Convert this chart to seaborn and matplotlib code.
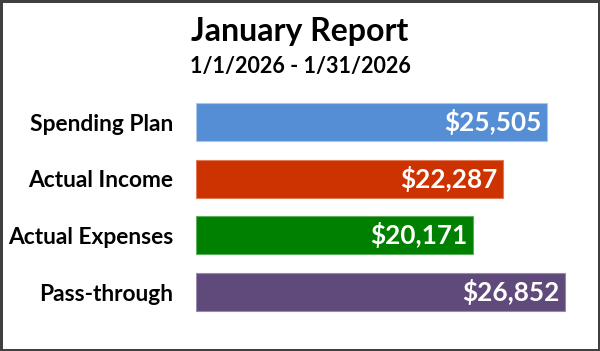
import matplotlib
matplotlib.use("Agg")
import matplotlib.pyplot as plt
import seaborn as sns
import pandas as pd

title = "January Report"
subtitle = "1/1/2026 - 1/31/2026"
categories = ["Spending Plan", "Actual Income", "Actual Expenses", "Pass-through"]
values = [25505, 22287, 20171, 26852]
value_labels = ["$25,505", "$22,287", "$20,171", "$26,852"]
colors = ["#558ED5", "#CC3300", "#008000", "#604A7B"]
edge_colors = ["#A8C6EC", "#E07A55", "#5FAE5F", "#9A89AE"]

sns.set_theme(style="white")
FONT = ["Lato", "DejaVu Sans"]
plt.rcParams["font.family"] = FONT

df = pd.DataFrame({"category": categories, "value": values})

W, H = 600, 351
fig = plt.figure(figsize=(W / 100, H / 100), dpi=100, facecolor="white",
                 edgecolor="#404040", linewidth=2.5)

scale = 0.013755  # px per unit
xmax = 28000
left_px = 196
top_px = 122 - 28.33
height_px = 4 * 56.67
ax = fig.add_axes([left_px / W, (H - top_px - height_px) / H, xmax * scale / W, height_px / H])

sns.barplot(data=df, y="category", x="value", hue="category", palette=colors,
            orient="h", width=0.67, legend=False, ax=ax, saturation=1)

for i, patch in enumerate(ax.patches):
    patch.set_edgecolor(edge_colors[i % len(edge_colors)])
    patch.set_linewidth(0.8)

for cont, lab in zip(ax.containers, value_labels):
    texts = ax.bar_label(cont, labels=[lab], padding=-4, color="white",
                         fontsize=18.8, fontweight="bold")
    for t in texts:
        t.set_ha("right")

ax.set_xlim(0, xmax)
ax.set_ylim(3.5, -0.5)
ax.set_xlabel("")
ax.set_ylabel("")
ax.set_xticks([])
ax.tick_params(axis="y", length=0, pad=16.5)
for lbl in ax.get_yticklabels():
    lbl.set_fontsize(16.4)
    lbl.set_fontweight("bold")
    lbl.set_color("black")
for s in ax.spines.values():
    s.set_visible(False)
ax.set_facecolor("none")

fig.text(0.5, 1 - 41.5 / H, title, ha="center", va="baseline",
         fontsize=23, fontweight="bold", color="black")
fig.text(0.5, 1 - 73 / H, subtitle, ha="center", va="baseline",
         fontsize=15.5, fontweight="bold", color="black")

fig.savefig("out.png", dpi=100, facecolor=fig.get_facecolor(),
            edgecolor=fig.get_edgecolor())
